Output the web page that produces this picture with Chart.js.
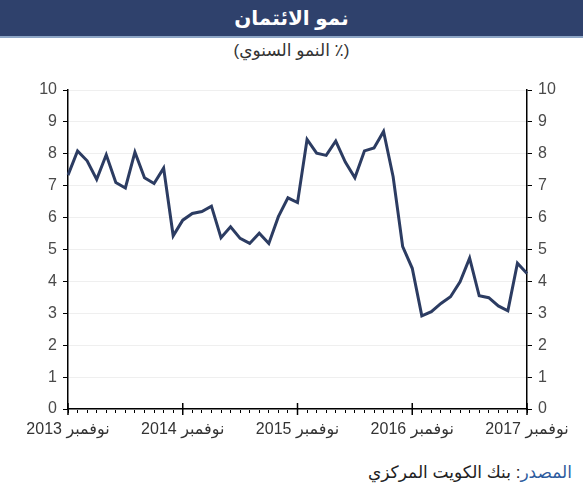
<!DOCTYPE html>
<html lang="ar">
<head>
  <meta charset="UTF-8" />
  <title>نمو الائتمان</title>
  <script src="https://cdn.jsdelivr.net/npm/chart.js"></script>
  <style>
    body {
      margin: 0;
      padding: 0;
      width: 583px;
      height: 500px;
      background: #ffffff;
      font-family: "Liberation Sans", "DejaVu Sans", Arial, sans-serif;
      position: relative;
      overflow: hidden;
    }

    .title-bar {
      height: 36px;
      line-height: 36px;
      background-color: #2f416c;
      border-bottom: 2px solid #8ea6c6;
      color: #ffffff;
      font-size: 20px;
      font-weight: bold;
      text-align: center;
    }

    .subtitle {
      position: absolute;
      top: 40px;
      left: 0;
      width: 583px;
      height: 22px;
      line-height: 22px;
      text-align: center;
      font-size: 17px;
      color: #333333;
    }

    .chart-box {
      position: absolute;
      top: 70px;
      left: 0;
      width: 583px;
      height: 375px;
    }

    .source {
      position: absolute;
      top: 462px;
      right: 11px;
      font-size: 17px;
      color: #222222;
      direction: rtl;
    }

    .source span {
      color: #2d5b9e;
    }
  </style>
</head>
<body>
  <div class="title-bar">نمو الائتمان</div>
  <div class="subtitle" dir="rtl">(٪ النمو السنوي)</div>

  <div class="chart-box">
    <canvas id="creditChart" width="583" height="375"></canvas>
  </div>

  <div class="source" dir="rtl"><span>المصدر</span>: بنك الكويت المركزي</div>

  <script>
    // شهري: نوفمبر 2013 - نوفمبر 2017
    const yearLabels = ["2013", "2014", "2015", "2016", "2017"];
    const monthName = "نوفمبر";

    const creditGrowth = [
      7.33, 8.09, 7.78, 7.20, 7.97, 7.10, 6.93, 8.05, 7.25, 7.07, 7.55, 5.43,
      5.92, 6.13, 6.19, 6.36, 5.37, 5.71, 5.35, 5.19, 5.51, 5.19, 6.03, 6.62,
      6.47, 8.45, 8.02, 7.95, 8.40, 7.74, 7.25, 8.09, 8.18, 8.70, 7.28, 5.09,
      4.41, 2.92, 3.05, 3.31, 3.52, 3.99, 4.73, 3.55, 3.49, 3.23, 3.08, 4.57,
      4.25
    ];

    const yTicks = [0, 1, 2, 3, 4, 5, 6, 7, 8, 9, 10];

    const labels = creditGrowth.map((v, i) =>
      i % 12 === 0 ? yearLabels[i / 12] + " " + monthName : ""
    );

    const fontFamily = '"Liberation Sans", "DejaVu Sans", Arial, sans-serif';

    // علامات السنوات الكبيرة على المحور الأفقي
    const majorTicks = {
      id: "majorTicks",
      afterDraw(chart) {
        const ctx = chart.ctx;
        const x = chart.scales.x;
        const bottom = chart.chartArea.bottom;
        ctx.save();
        ctx.strokeStyle = "#000000";
        ctx.lineWidth = 1.5;
        labels.forEach((lab, i) => {
          if (!lab) return;
          const px = x.getPixelForValue(i);
          ctx.beginPath();
          ctx.moveTo(px, bottom - 6);
          ctx.lineTo(px, bottom + 6);
          ctx.stroke();
        });
        ctx.restore();
      }
    };

    const yAxisBase = {
      min: yTicks[0],
      max: yTicks[yTicks.length - 1],
      border: { color: "#000000", width: 1.5 },
      ticks: {
        stepSize: 1,
        color: "#4a4a4a",
        padding: 6,
        font: { family: fontFamily, size: 16 }
      }
    };

    new Chart(document.getElementById("creditChart").getContext("2d"), {
      type: "line",
      data: {
        labels: labels,
        datasets: [
          {
            data: creditGrowth,
            borderColor: "#2c3c62",
            borderWidth: 3,
            pointRadius: 0,
            tension: 0,
            fill: false,
            yAxisID: "y"
          }
        ]
      },
      options: {
        responsive: false,
        animation: false,
        layout: { padding: { top: 20 } },
        plugins: {
          legend: { display: false },
          tooltip: { enabled: false }
        },
        scales: {
          x: {
            border: { color: "#000000", width: 1.5 },
            grid: {
              drawOnChartArea: false,
              tickLength: 4,
              tickColor: "#000000"
            },
            ticks: {
              autoSkip: false,
              maxRotation: 0,
              color: "#333333",
              padding: 7,
              font: { family: fontFamily, size: 16 }
            },
            afterFit(scale) { scale.height = 36; }
          },
          y: Object.assign({}, yAxisBase, {
            position: "left",
            grid: {
              color: "#efefef",
              tickColor: "#000000",
              tickLength: 5
            },
            afterFit(scale) { scale.width = 68; }
          }),
          y2: Object.assign({}, yAxisBase, {
            position: "right",
            grid: {
              drawOnChartArea: false,
              tickColor: "#000000",
              tickLength: 5
            },
            afterFit(scale) { scale.width = 56; }
          })
        }
      },
      plugins: [majorTicks]
    });
  </script>
</body>
</html>
